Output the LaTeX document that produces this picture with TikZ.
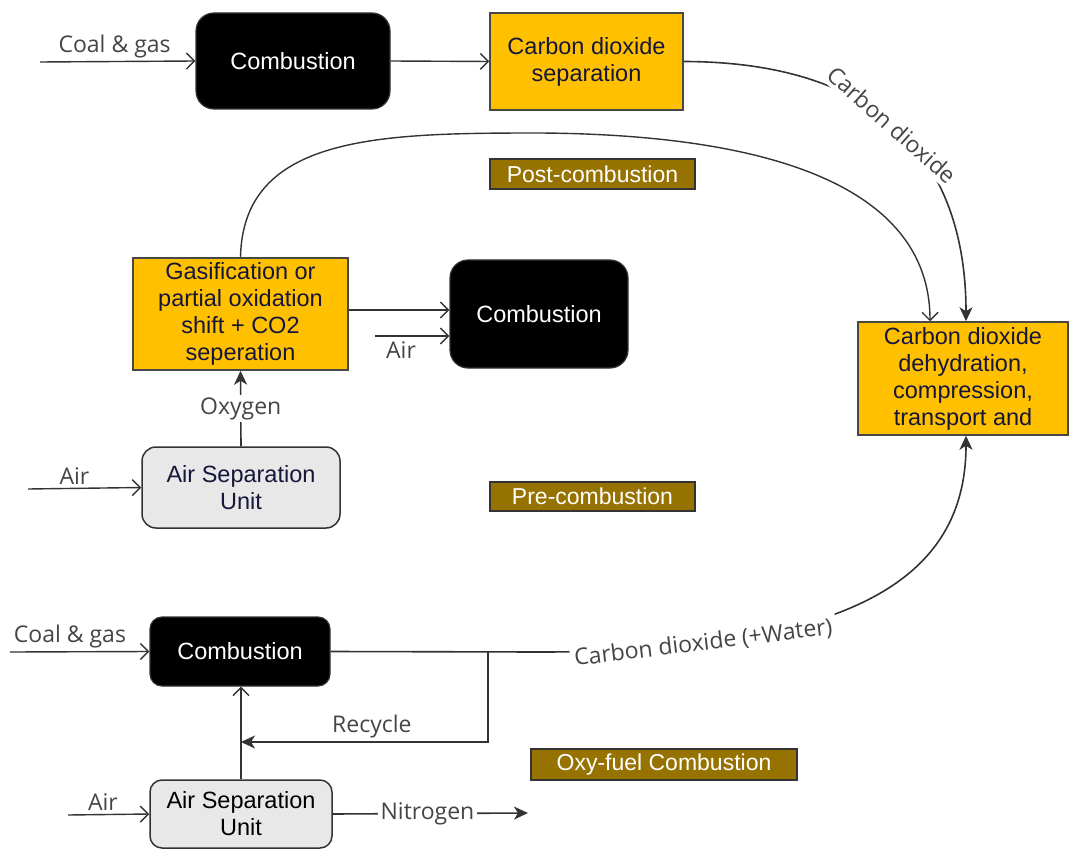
\documentclass[tikz,border=0pt]{standalone}
\usepackage{fontspec}
\setmainfont{Liberation Sans}
\newfontfamily\lblfont{Open Sans}
\usetikzlibrary{arrows.meta,calc}
\definecolor{capyellow}{HTML}{FFC000}
\definecolor{capbrown}{HTML}{967200}
\definecolor{capgray}{HTML}{E8E8E8}
\definecolor{capline}{HTML}{333333}
\definecolor{caplabel}{HTML}{454545}
\definecolor{capnavy}{HTML}{16163A}
\begin{document}
\begin{tikzpicture}[x=1pt,y=-1pt,
  boxtext/.style={font=\fontsize{23.5}{27}\selectfont, align=center, inner sep=2pt},
  blackbox/.style={boxtext, draw=capline, line width=1.2pt, fill=black, text=white, rounded corners=18pt},
  yellowbox/.style={boxtext, draw=capline!90, line width=1.5pt, fill=capyellow, text=capnavy},
  graybox/.style={boxtext, draw=capline, line width=1.5pt, fill=capgray, rounded corners=14pt},
  tagbox/.style={font=\fontsize{23}{26}\selectfont, draw=capline, line width=1.5pt, fill=capbrown, text=white, inner sep=1pt},
  lbl/.style={font=\lblfont\fontsize{23}{26}\selectfont, text=caplabel, inner sep=3pt},
  flow/.style={draw=capline, line width=1.4pt, -{Straight Barb[length=8pt,width=16pt]}},
  bold flow/.style={draw=capline, line width=1.6pt, -{Stealth[length=14pt,width=13pt,inset=4pt]}},
  plain/.style={draw=capline, line width=1.4pt}]
\useasboundingbox (0,0) rectangle (1070,850);

% boxes
\node[blackbox, minimum width=194pt, minimum height=96pt] (comb1) at (293,61) {Combustion};
\node[yellowbox, minimum width=193pt, minimum height=97pt] (sep) at (586.5,61.5) {Carbon dioxide\\separation};
\node[tagbox, minimum width=205pt, minimum height=30pt] (post) at (592.5,174) {Post-combustion};

\node[yellowbox, minimum width=215pt, minimum height=112pt] (gas) at (240.5,314) {Gasification or\\partial oxidation\\shift + CO2\\seperation};
\node[blackbox, minimum width=178pt, minimum height=108pt] (comb2) at (539,314) {Combustion};
\node[graybox, text=capnavy, minimum width=198pt, minimum height=81pt] (asu1) at (241,487.5) {Air Separation\\Unit};
\node[tagbox, minimum width=205pt, minimum height=29pt] (pre) at (592.5,496.5) {Pre-combustion};

\node[yellowbox, minimum width=210pt, minimum height=113pt] (final) at (963,378.5) {Carbon dioxide\\dehydration,\\compression,\\transport and};

\node[blackbox, rounded corners=12pt, minimum width=180pt, minimum height=69pt] (comb3) at (240,651.5) {Combustion};
\node[graybox, text=black, rounded corners=12pt, minimum width=182pt, minimum height=68pt] (asu2) at (241,814) {Air Separation\\Unit};
\node[tagbox, minimum width=266pt, minimum height=31pt] (oxy) at (664,764.5) {Oxy-fuel Combustion};

% free ends and bends
\coordinate (in1) at (40,62);
\coordinate (in2) at (375,336);
\coordinate (in3) at (28,489);
\coordinate (in4) at (10,652);
\coordinate (in5) at (68,815);
\coordinate (bend) at (540,652);
\coordinate (junc) at (488,652);
\coordinate (recy) at (488,742);
\coordinate (nout) at (528,813);
\coordinate (topin) at ($(final.north)+(3,0)$);
\coordinate (leftin) at ($(final.north)+(-33,0)$);
\coordinate (botin) at ($(final.south)+(3,0)$);

% post-combustion
\draw[flow] (in1) -- node[lbl, above, pos=0.48] {Coal \& gas} (comb1.west);
\draw[flow] (comb1.east) -- (sep.west);
\draw[bold flow] (sep.east) .. controls (900,62) and (966,180) ..
  node[lbl, pos=0.45, sloped, fill=white, inner sep=4pt] {Carbon dioxide} (topin);

% pre-combustion
\draw[flow] (gas.north) .. controls (243,135) and (380,133) .. (540,133)
  .. controls (820,135) and (930,210) .. (leftin);
\draw[flow] ([yshift=4pt]gas.east) -- ([yshift=4pt]comb2.west);
\draw[flow] (in2) -- node[lbl, below, pos=0.35, yshift=-2pt] {Air} (in2 -| comb2.west);
\draw[bold flow] (asu1.north) -- node[lbl, fill=white, inner sep=2pt] {Oxygen} (gas.south);
\draw[flow] (in3) -- node[lbl, above, pos=0.41] {Air} (asu1.west);

% oxy-fuel combustion
\draw[flow] (in4) -- node[lbl, above, pos=0.43] {Coal \& gas} (comb3.west);
\draw[bold flow] (comb3.east) -- (bend) .. controls (850,652) and (966,580) ..
  node[lbl, pos=0.2, sloped, fill=white, inner sep=4pt] {Carbon dioxide (+Water)} (botin);
\draw[bold flow] (junc) -- (recy) -- node[lbl, above, pos=0.47] {Recycle} (recy -| asu2.north);
\draw[flow] (asu2.north) -- (asu2.north |- comb3.south);
\draw[flow] (in5) -- node[lbl, above, pos=0.43] {Air} (asu2.west);
\draw[bold flow] (asu2.east) -- node[lbl, fill=white, inner sep=3pt, pos=0.485] {Nitrogen} (nout);
\end{tikzpicture}
\end{document}
